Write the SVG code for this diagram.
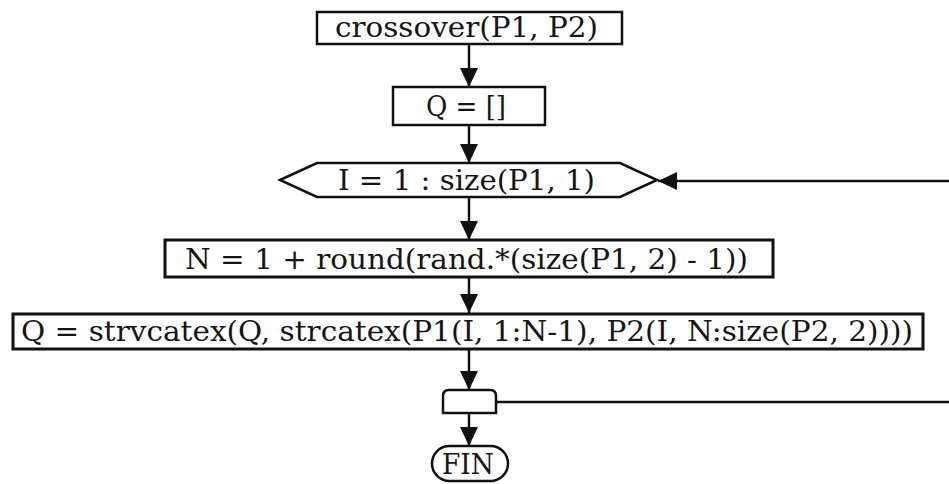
<svg xmlns="http://www.w3.org/2000/svg" width="949" height="484" viewBox="0 0 949 484">
  <defs>
    <marker id="arrow" markerUnits="userSpaceOnUse" markerWidth="19" markerHeight="18" refX="19" refY="9" orient="auto">
      <path d="M0,0 L19,9 L0,18 Z" fill="#111"/>
    </marker>
    <style>
      .shape { fill: #fff; stroke: #111; stroke-width: 2.5; }
      .heavy { stroke-width: 3; }
      .label { font-family: "DejaVu Serif", "Liberation Serif", serif; font-size: 27px; fill: #151515; }
      .wire { fill: none; stroke: #111; stroke-width: 2.5; }
      .flow { marker-end: url(#arrow); }
    </style>
  </defs>
  <rect width="949" height="484" fill="#fff"/>

  <!-- connectors -->
  <g id="connectors">
    <line class="wire flow" x1="469" y1="44" x2="469" y2="87"/>
    <line class="wire flow" x1="469" y1="125" x2="469" y2="163"/>
    <line class="wire flow" x1="469" y1="197" x2="469" y2="240"/>
    <line class="wire flow" x1="469" y1="277" x2="469" y2="313"/>
    <line class="wire flow" x1="469" y1="349" x2="469" y2="390"/>
    <line class="wire flow" x1="469" y1="413" x2="469" y2="446"/>
    <!-- loop back: end-of-loop to loop header -->
    <line class="wire" x1="496" y1="402" x2="949" y2="402"/>
    <line class="wire flow" x1="949" y1="181" x2="658" y2="181"/>
  </g>

  <g id="start">
    <rect class="shape" x="317" y="12" width="305" height="32"/>
    <text class="label" x="335" y="37" textLength="263" lengthAdjust="spacingAndGlyphs">crossover(P1, P2)</text>
  </g>

  <g id="init">
    <rect class="shape" x="393" y="87" width="152" height="38"/>
    <text class="label" x="426" y="116" textLength="80" lengthAdjust="spacingAndGlyphs">Q = []</text>
  </g>

  <g id="loop">
    <polygon class="shape" points="280,180 317,163 620,163 657,180 620,197 317,197"/>
    <text class="label" x="338" y="190" textLength="257" lengthAdjust="spacingAndGlyphs">I = 1 : size(P1, 1)</text>
  </g>

  <g id="cut">
    <rect class="shape heavy" x="165" y="240" width="608" height="37"/>
    <text class="label" x="185" y="269" textLength="563" lengthAdjust="spacingAndGlyphs">N = 1 + round(rand.*(size(P1, 2) - 1))</text>
  </g>

  <g id="append">
    <rect class="shape heavy" x="13" y="314" width="910" height="35"/>
    <text class="label" x="21" y="341" textLength="892" lengthAdjust="spacingAndGlyphs">Q = strvcatex(Q, strcatex(P1(I, 1:N-1), P2(I, N:size(P2, 2))))</text>
  </g>

  <g id="loop-end">
    <path class="shape" d="M443,413 V396 Q443,390 449,390 H490 Q496,390 496,396 V413 Z"/>
  </g>

  <g id="end">
    <rect class="shape" x="432" y="446" width="76" height="35" rx="17.5" ry="17.5"/>
    <text class="label" x="442" y="474" textLength="52" lengthAdjust="spacingAndGlyphs">FIN</text>
  </g>
</svg>
